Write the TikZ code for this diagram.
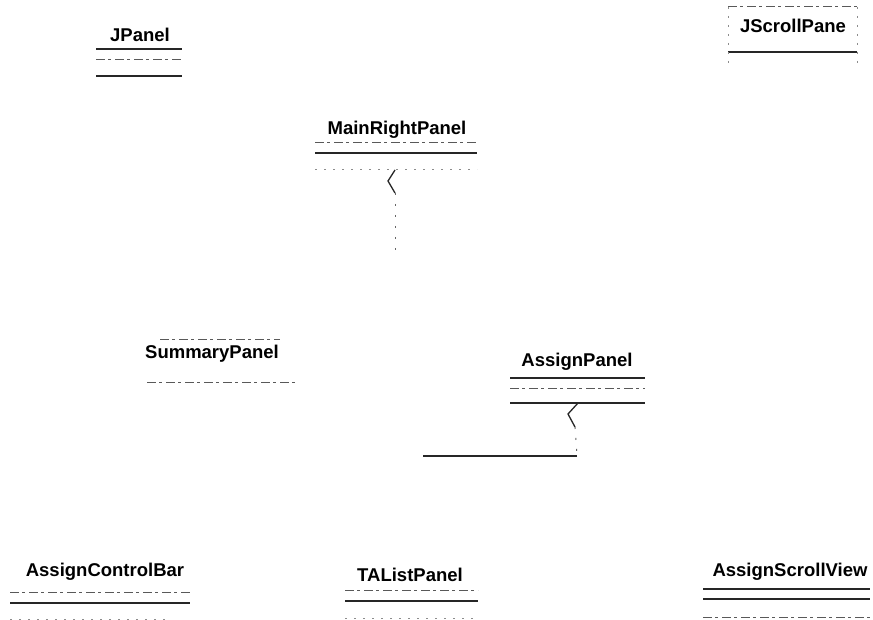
\documentclass[tikz,border=0pt]{standalone}
\usepackage{fontspec}
\setmainfont{Liberation Sans}
\begin{document}
\begin{tikzpicture}[x=1pt,y=-1pt,
  cname/.style={font=\bfseries\fontsize{18.5}{21}\selectfont, inner sep=0pt, anchor=center},
  solidsep/.style={line width=1.3pt, black!85},
  faintsep/.style={line width=1pt, black!65, dash pattern=on 9pt off 3pt on 3pt off 4pt},
  dotsep/.style={line width=1pt, black!45, dash pattern=on 2pt off 7pt},
  conn/.style={line width=1.3pt, black!85},
  connfaint/.style={line width=1pt, black!60, dash pattern=on 2pt off 9pt},
]
\useasboundingbox[fill=white] (0,0) rectangle (873,620);

% JPanel
\node[cname] (jpanel) at (140,35) {JPanel};
\draw[solidsep] (96,49) -- (182,49);
\draw[faintsep] (96,60) -- (182,60);
\draw[solidsep] (96,76) -- (182,76);

% JScrollPane
\node[cname] (jscroll) at (793,26) {JScrollPane};
\draw[faintsep] (728,7) -- (857,7);
\draw[solidsep] (728,52) -- (857,52);
\draw[dotsep] (728,7) -- (728,66);
\draw[dotsep] (857,7) -- (857,66);

% MainRightPanel
\node[cname] (mainright) at (397,130) {MainRightPanel};
\draw[faintsep] (315,143) -- (477,143);
\draw[solidsep] (315,153) -- (477,153);
\draw[dotsep] (315,170) -- (477,170);
\coordinate (mrtop) at (395,170);
\coordinate (mrbot) at (395,193);
\coordinate (mrend) at (395,252);
\draw[conn] (mrtop) -- (388,181) -- (mrbot);
\draw[connfaint] (mrbot) -- (mrend);

% SummaryPanel
\node[cname] (summary) at (212,354) {SummaryPanel};
\draw[faintsep] (160,340) -- (280,340);
\draw[faintsep] (147,382) -- (297,382);

% AssignPanel
\node[cname] (assign) at (577,362) {AssignPanel};
\draw[solidsep] (510,378) -- (645,378);
\draw[faintsep] (510,388) -- (645,388);
\draw[solidsep] (510,403) -- (645,403);
\coordinate (aptop) at (578,403);
\coordinate (apbot) at (575,427);
\coordinate (apcorner) at (577,456);
\coordinate (apend) at (423,456);
\draw[conn] (aptop) -- (568,414) -- (apbot);
\draw[connfaint] (apbot) -- (apcorner);
\draw[conn] (apcorner) -- (apend);

% AssignControlBar
\node[cname] (ctrlbar) at (105,572) {AssignControlBar};
\draw[faintsep] (10,592) -- (190,592);
\draw[solidsep] (10,603) -- (190,603);
\draw[dotsep] (10,619) -- (165,619);

% TAListPanel
\node[cname] (talist) at (410,575) {TAListPanel};
\draw[faintsep] (345,590) -- (478,590);
\draw[solidsep] (345,601) -- (478,601);
\draw[dotsep] (345,618) -- (478,618);

% AssignScrollView
\node[cname] (scrollview) at (790,572) {AssignScrollView};
\draw[solidsep] (703,589) -- (870,589);
\draw[solidsep] (703,599) -- (870,599);
\draw[faintsep] (703,617) -- (870,617);
\end{tikzpicture}
\end{document}
